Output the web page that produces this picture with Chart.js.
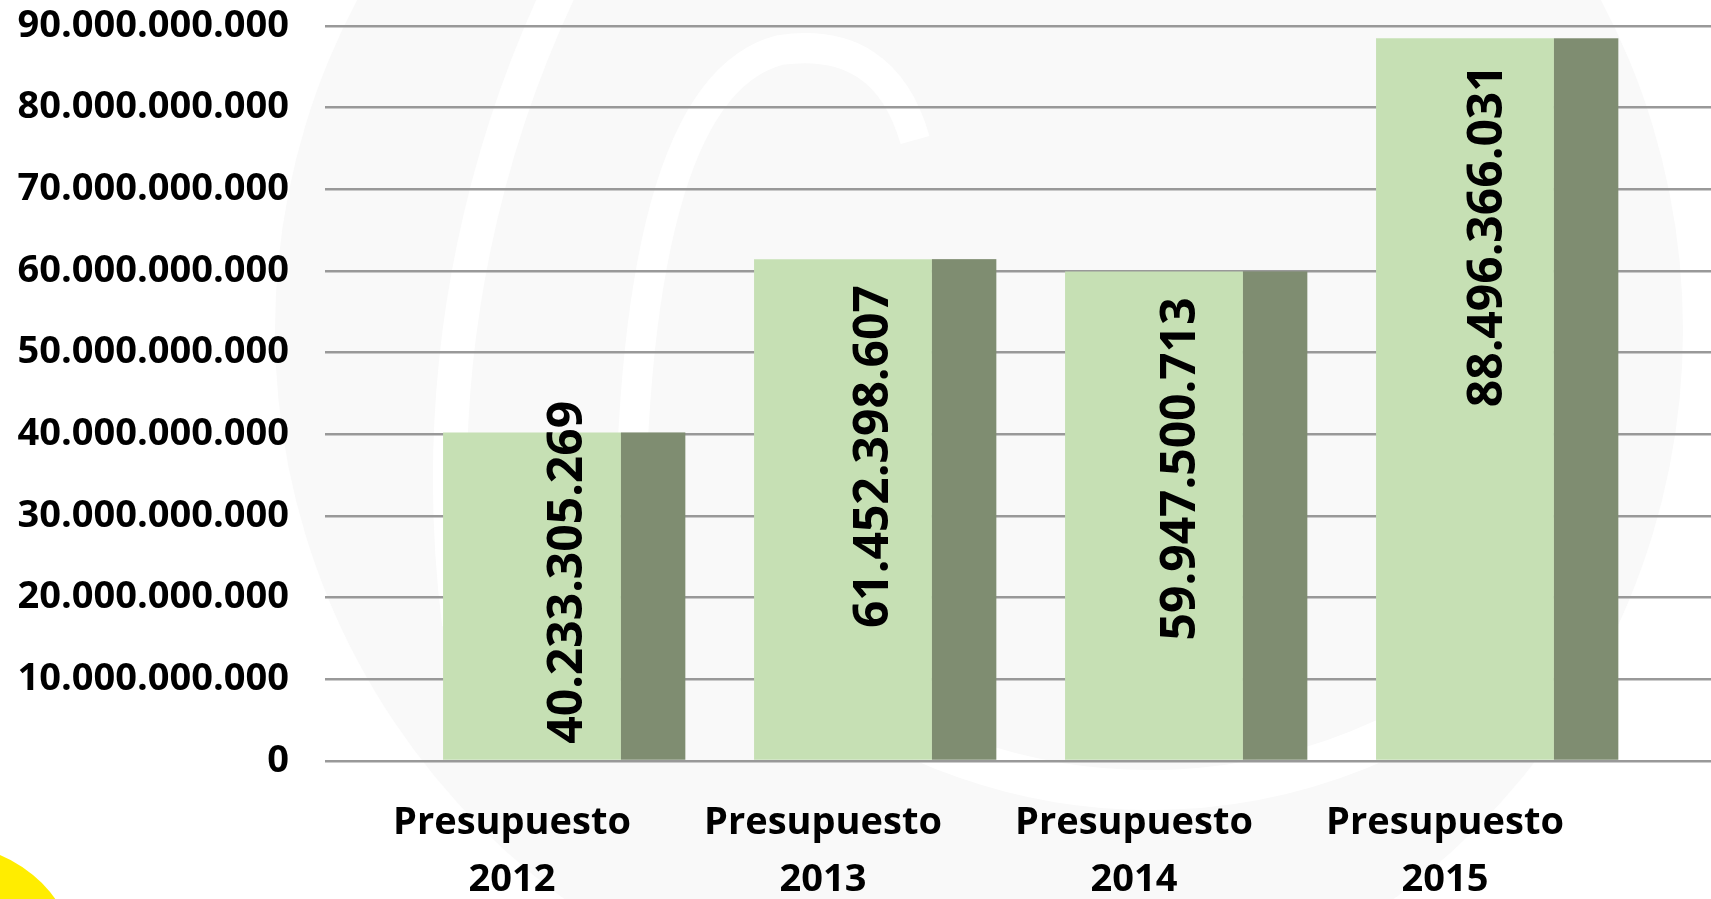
<!DOCTYPE html>
<html>
<head>
<meta charset="utf-8">
<title>Presupuesto 2012 - 2015</title>
<script src="https://cdn.jsdelivr.net/npm/chart.js@4.4.1/dist/chart.umd.min.js"></script>
<style>
	html, body { margin: 0; padding: 0; background: #fff; overflow: hidden; }
	canvas { display: block; }
</style>
</head>
<body>
<canvas id="budgetChart" width="1711" height="943"></canvas>
<script>
// Datos
const categories = ["Presupuesto 2012", "Presupuesto 2013", "Presupuesto 2014", "Presupuesto 2015"];
const budgets = [40233305269, 61452398607, 59947500713, 88496366031];
const yTickValues = [0, 10e9, 20e9, 30e9, 40e9, 50e9, 60e9, 70e9, 80e9, 90e9];

// Estilos
const frontColor = "#c6e0b4";
const sideColor = "#7f8d71";
const gridColor = "#999999";
const fontFamily = "'Open Sans', sans-serif";

// 40233305269 -> "40.233.305.269"
function fmt(v) {
	return Math.round(v).toString().replace(/\B(?=(\d{3})+(?!\d))/g, ".");
}

// fondo: marca de agua (logo muy claro) y mancha amarilla
const backdrop = {
	id: "backdrop",
	beforeDraw(chart) {
		const ctx = chart.ctx;
		ctx.save();
		ctx.fillStyle = "#fff";
		ctx.fillRect(0, 0, chart.width, chart.height);

		ctx.fillStyle = "#f9f9f9";
		ctx.beginPath();
		ctx.arc(979, 330, 704, 0, Math.PI * 2);
		ctx.fill();

		ctx.strokeStyle = "#fff";
		ctx.lineCap = "butt";
		ctx.lineWidth = 34;
		ctx.beginPath();
		ctx.arc(1600, 480, 1150, Math.PI * 0.96, Math.PI * 1.17);
		ctx.stroke();
		ctx.lineWidth = 30;
		ctx.beginPath();
		ctx.moveTo(630, 600);
		ctx.quadraticCurveTo(625, 90, 780, 50);
		ctx.quadraticCurveTo(885, 35, 915, 140);
		ctx.stroke();
		ctx.lineWidth = 40;
		ctx.beginPath();
		ctx.arc(1150, 230, 560, Math.PI * 0.25, Math.PI * 0.72);
		ctx.stroke();

		ctx.fillStyle = "#ffed00";
		ctx.beginPath();
		ctx.arc(-50, 975, 130, 0, Math.PI * 2);
		ctx.fill();
		ctx.restore();
	}
};

// cara lateral (efecto 3D) y etiquetas de valor giradas
const sideAndLabels = {
	id: "sideAndLabels",
	afterDatasetsDraw(chart) {
		const ctx = chart.ctx;
		const meta = chart.getDatasetMeta(0);
		const x0 = meta.data[0].x;
		ctx.save();
		meta.data.forEach(function (bar, i) {
			const w = bar.width;
			const right = bar.x + w / 2;
			ctx.fillStyle = sideColor;
			ctx.fillRect(right, bar.y, w * 0.362, bar.base - bar.y);

			const text = fmt(budgets[i]);
			ctx.font = "bold 48px " + fontFamily;
			ctx.fillStyle = "#000";
			const len = ctx.measureText(text).width;
			const top = Math.min(bar.y + 26, bar.base - 16 - len);
			const shift = 36 - 0.014 * (bar.x - x0);
			ctx.save();
			ctx.translate(bar.x + shift, top + len);
			ctx.rotate(-Math.PI / 2);
			ctx.textAlign = "left";
			ctx.textBaseline = "middle";
			ctx.fillText(text, 0, 0);
			ctx.restore();
		});
		ctx.restore();
	}
};

Chart.defaults.font.family = fontFamily;
Chart.defaults.color = "#000";

const ctx = document.getElementById("budgetChart").getContext("2d");
new Chart(ctx, {
	type: "bar",
	data: {
		datasets: [
			{
				data: budgets.map((v, i) => ({ x: i, y: v })),
				backgroundColor: frontColor,
				borderWidth: 0,
				barPercentage: 0.572,
				categoryPercentage: 1,
			},
		],
	},
	options: {
		responsive: false,
		animation: false,
		layout: {
			padding: { top: 26, left: 0, right: 0, bottom: 0 },
		},
		plugins: {
			legend: { display: false },
			tooltip: { enabled: false },
		},
		scales: {
			x: {
				type: "linear",
				min: -0.6656,
				max: 3.791,
				offset: false,
				grid: { display: false, drawTicks: false },
				border: { display: false },
				afterBuildTicks: function (axis) {
					axis.ticks = categories.map((c, i) => ({ value: i }));
				},
				ticks: {
					autoSkip: false,
					maxRotation: 0,
					padding: 34,
					labelOffset: -20,
					font: { size: 38, weight: "bold", lineHeight: 1.5 },
					callback: function (value) {
						const c = categories[value];
						return c ? c.split(" ") : "";
					},
				},
			},
			y: {
				min: 0,
				max: 90e9,
				grid: {
					color: gridColor,
					lineWidth: 2.5,
					drawTicks: true,
					tickLength: 36,
					tickColor: "rgba(0,0,0,0)",
				},
				border: { display: false },
				afterBuildTicks: function (axis) {
					axis.ticks = yTickValues.map((v) => ({ value: v }));
				},
				afterFit: function (axis) {
					axis.width = 325;
				},
				ticks: {
					padding: 0,
					font: { size: 38, weight: "bold" },
					callback: function (value) {
						return fmt(value);
					},
				},
			},
		},
	},
	plugins: [backdrop, sideAndLabels],
});
</script>
</body>
</html>
